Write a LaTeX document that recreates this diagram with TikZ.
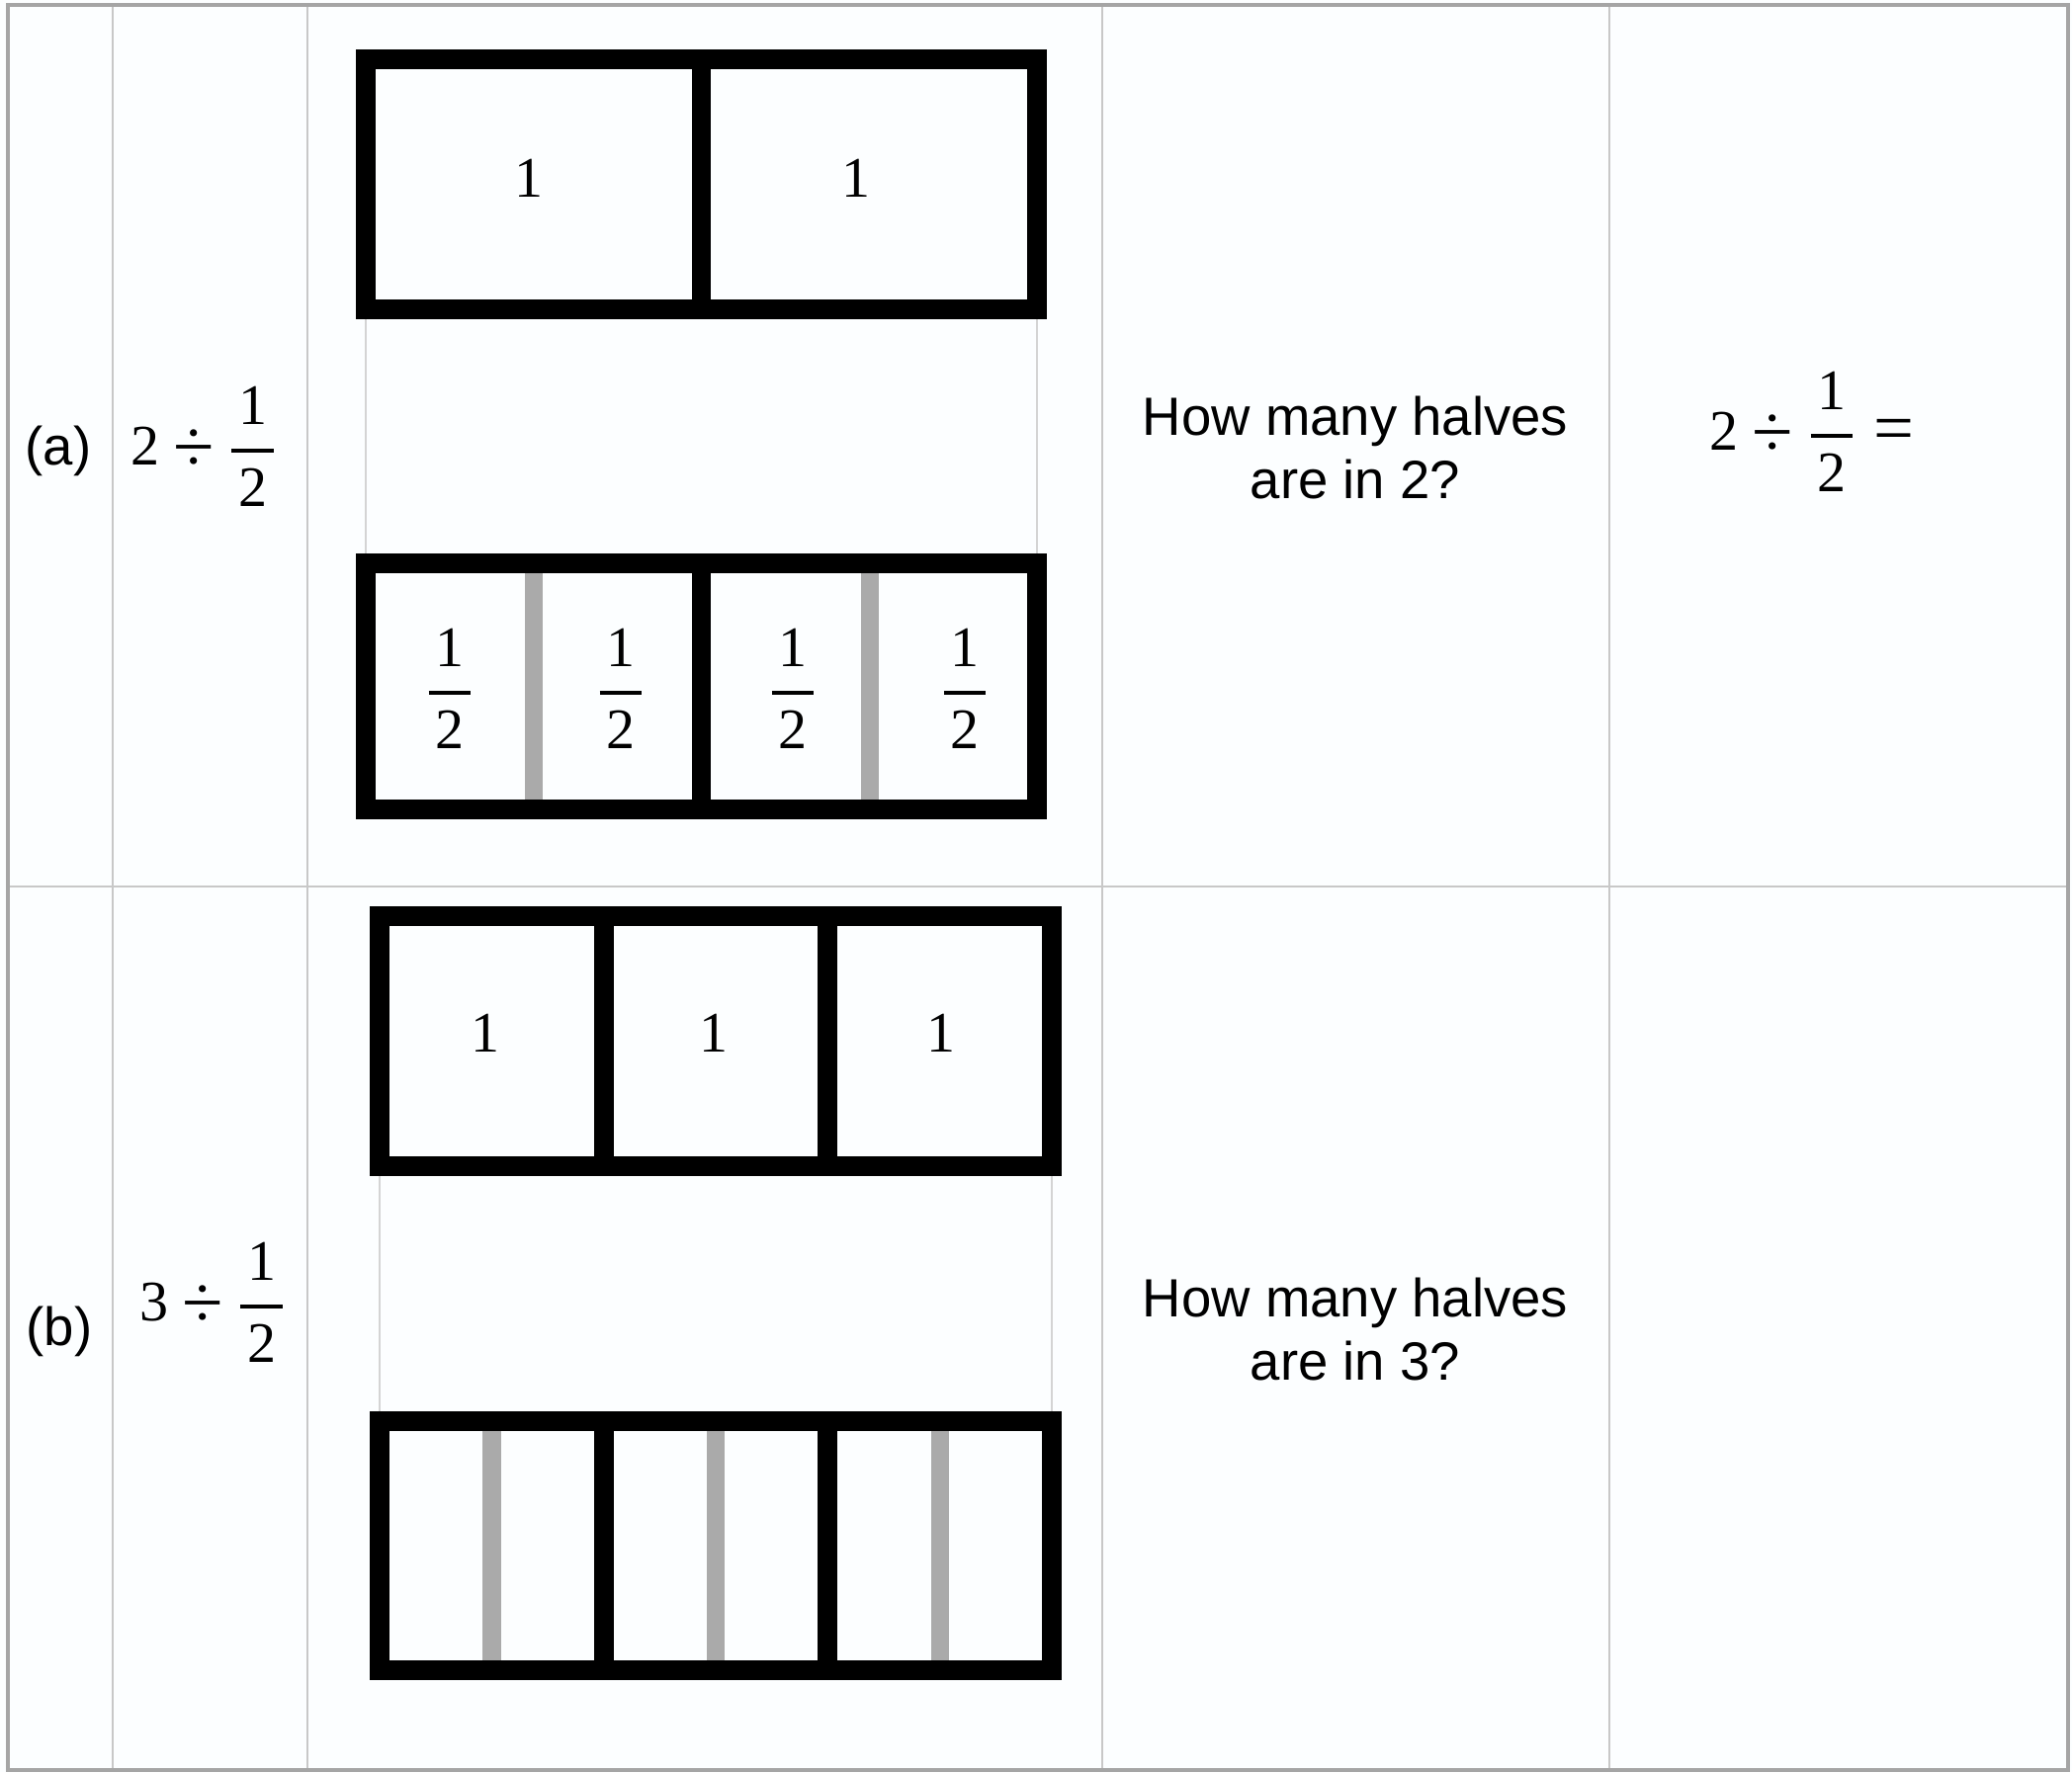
\documentclass[tikz,border=0pt]{standalone}
\usepackage{amsmath}
\usepackage{graphicx}
\usepackage{fontspec}
\setmainfont{Liberation Serif}
\newfontfamily\labelfont{Liberation Sans}
\usepackage{tikz}
\usetikzlibrary{backgrounds}
\definecolor{gridgray}{RGB}{200,200,200}
\definecolor{framegray}{RGB}{165,165,165}
\definecolor{halfgray}{RGB}{170,170,170}
\definecolor{linkgray}{RGB}{212,212,212}
\definecolor{paper}{RGB}{252,254,255}
\newcommand{\dg}[1]{\mbox{#1}}
\newcommand{\dv}{\mathbin{\vcenter{\hbox{\scalebox{1.3}{÷}}}}}
\newcommand{\eq}{\mathrel{\vcenter{\hbox{\scalebox{1.25}{=}}}}}
\newcommand{\hf}{\genfrac{}{}{1.1pt}{0}{\mkern2mu\dg{1}\mkern2mu}{\mkern2mu\dg{2}\mkern2mu}}

\begin{document}
\begin{tikzpicture}[
        x=0.01cm, y=-0.01cm,
        grid/.style={draw=gridgray, line width=0.8pt},
        bar/.style={draw=black, line width=5.6pt},
        half/.style={draw=halfgray, line width=5.2pt},
        link/.style={draw=linkgray, line width=0.6pt},
        num/.style={font=\fontsize{16.5}{19}\selectfont, inner sep=0pt},
        txt/.style={font=\labelfont\fontsize{15.5}{18.4}\selectfont, align=center, inner sep=0pt}
      ]
      \fill[paper] (0,0) rectangle (2096,1793);
      \useasboundingbox (0,0) rectangle (2096,1793);
      % table
      \foreach \x in {114,311,1115,1628}
        \draw[grid] (\x,5) -- (\x,1791);
      \draw[grid] (8,897) -- (2092,897);
      \draw[framegray, line width=0.9pt] (8,5) rectangle (2092,1791);
      % row (a)
      \coordinate (aTopL) at (370,313);
      \coordinate (aTopR) at (1049,313);
      \coordinate (aBotL) at (370,570);
      \coordinate (aBotR) at (1049,570);
      \draw[link] (aTopL) -- (aBotL);
      \draw[link] (aTopR) -- (aBotR);
      \draw[half] (540,570) -- (540,819);
      \draw[half] (880,570) -- (880,819);
      \draw[bar] (370,60) rectangle (aTopR);
      \draw[bar] (709.5,60) -- (709.5,313);
      \draw[bar] (aBotL) rectangle (1049,819);
      \draw[bar] (709.5,570) -- (709.5,819);
      \node[num] (a1) at (535,180) {\dg{1}};
      \node[num] (a2) at (866,180) {\dg{1}};
      \node[num] (ah1) at (455,697) {$\displaystyle\hf$};
      \node[num] (ah2) at (628,697) {$\displaystyle\hf$};
      \node[num] (ah3) at (802,697) {$\displaystyle\hf$};
      \node[num] (ah4) at (976,697) {$\displaystyle\hf$};
      \node[txt] (la) at (59,456) {(a)};
      \node[num] (fa) at (207,452) {$\displaystyle \dg{2}\dv\hf$};
      \node[txt] (qa) at (1371,453) {How many halves\\are in 2?};
      \node[num] (ra) at (1833,437) {$\displaystyle \dg{2}\dv\hf\eq$};
      % row (b)
      \coordinate (bTopL) at (384,1180);
      \coordinate (bTopR) at (1064,1180);
      \coordinate (bBotL) at (384,1438);
      \coordinate (bBotR) at (1064,1438);
      \draw[link] (bTopL) -- (bBotL);
      \draw[link] (bTopR) -- (bBotR);
      \foreach \x in {497.5,724,951}
        \draw[half] (\x,1438) -- (\x,1690);
      \draw[bar] (384,927) rectangle (bTopR);
      \draw[bar] (bBotL) rectangle (1064,1690);
      \foreach \x in {611,837}{
        \draw[bar] (\x,927) -- (\x,1180);
        \draw[bar] (\x,1438) -- (\x,1690);
      }
      \node[num] (b1) at (491,1045) {\dg{1}};
      \node[num] (b2) at (722,1045) {\dg{1}};
      \node[num] (b3) at (952,1045) {\dg{1}};
      \node[txt] (lb) at (60,1347) {(b)};
      \node[num] (fb) at (216,1318) {$\displaystyle \dg{3}\dv\hf$};
      \node[txt] (qb) at (1371,1345) {How many halves\\are in 3?};
    \end{tikzpicture}
\end{document}
